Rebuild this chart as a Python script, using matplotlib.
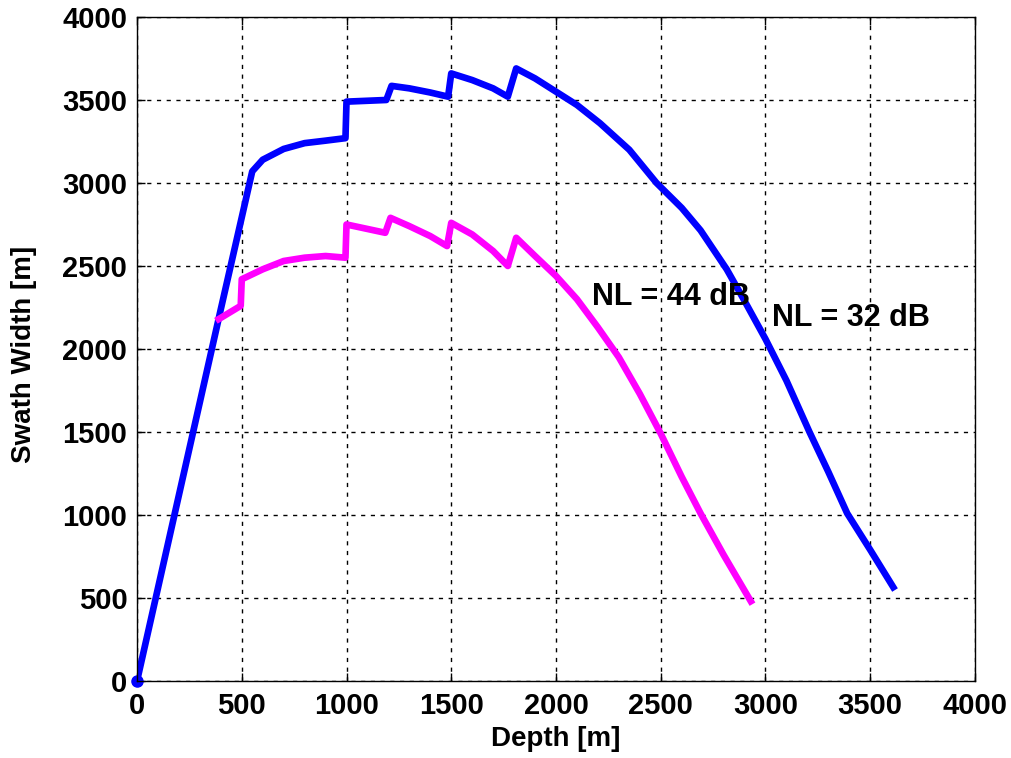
import matplotlib.pyplot as plt
import numpy as np

plt.rcParams['font.family'] = ['Liberation Sans', 'DejaVu Sans']
plt.rcParams['font.weight'] = 'bold'

# NL = 32 dB (blue)
depth_32 = [0, 100, 200, 300, 400, 550, 600, 700, 800, 900, 995, 1000, 1190, 1215,
            1300, 1400, 1485, 1500, 1600, 1700, 1770, 1810, 1900, 2000, 2100, 2210,
            2350, 2480, 2600, 2690, 2815, 2900, 3000, 3100, 3210, 3300, 3390, 3500, 3610]
swath_32 = [0, 560, 1120, 1680, 2240, 3070, 3140, 3205, 3240, 3255, 3270, 3490, 3500, 3585,
            3570, 3545, 3520, 3660, 3620, 3570, 3520, 3690, 3630, 3550, 3470, 3360,
            3200, 3000, 2850, 2715, 2480, 2290, 2060, 1810, 1500, 1260, 1010, 790, 565]

# NL = 44 dB (magenta)
depth_44 = [390, 495, 500, 600, 700, 800, 900, 995, 1000, 1185, 1210, 1300, 1400, 1480,
            1500, 1600, 1700, 1770, 1810, 1900, 2000, 2100, 2200, 2300, 2400, 2500,
            2600, 2690, 2800, 2930]
swath_44 = [2180, 2260, 2420, 2480, 2530, 2550, 2560, 2550, 2750, 2700, 2790, 2740, 2680, 2620,
            2760, 2690, 2590, 2500, 2670, 2560, 2440, 2300, 2130, 1950, 1730, 1490,
            1230, 1010, 760, 480]

fig = plt.figure(figsize=(10.12, 7.58), dpi=100)
ax = fig.add_axes([0.1354, 0.1016, 0.828, 0.876])

ax.plot(depth_32, swath_32, color='#0000ff', linewidth=4.8, solid_joinstyle='round')
ax.plot(depth_44, swath_44, color='#ff00ff', linewidth=4.8, solid_joinstyle='round')
ax.plot([0], [0], marker='o', color='#0000ff', markersize=8, clip_on=False)

ax.text(2170, 2315, 'NL = 44 dB', fontsize=22, fontweight='bold', va='center')
ax.text(3030, 2185, 'NL = 32 dB', fontsize=22, fontweight='bold', va='center')

ax.set_xlim(0, 4000)
ax.set_ylim(0, 4000)
ax.set_xticks(np.arange(0, 4001, 500))
ax.set_yticks(np.arange(0, 4001, 500))
ax.tick_params(direction='in', labelsize=21, length=6, width=1, top=True, right=False)
ax.tick_params(axis='y', pad=7)
ax.tick_params(axis='x', pad=8)
ax.grid(True, color='black', linestyle=(0, (3, 4)), linewidth=1)
for s in ax.spines.values():
    s.set_linewidth(1)

ax.set_xlabel('Depth [m]', fontsize=20, fontweight='bold')
ax.set_ylabel('Swath Width [m]', fontsize=20, fontweight='bold')
ax.xaxis.set_label_coords(0.5, -0.068)
ax.yaxis.set_label_coords(-0.119, 0.492)

fig.savefig('out.png', dpi=100)
